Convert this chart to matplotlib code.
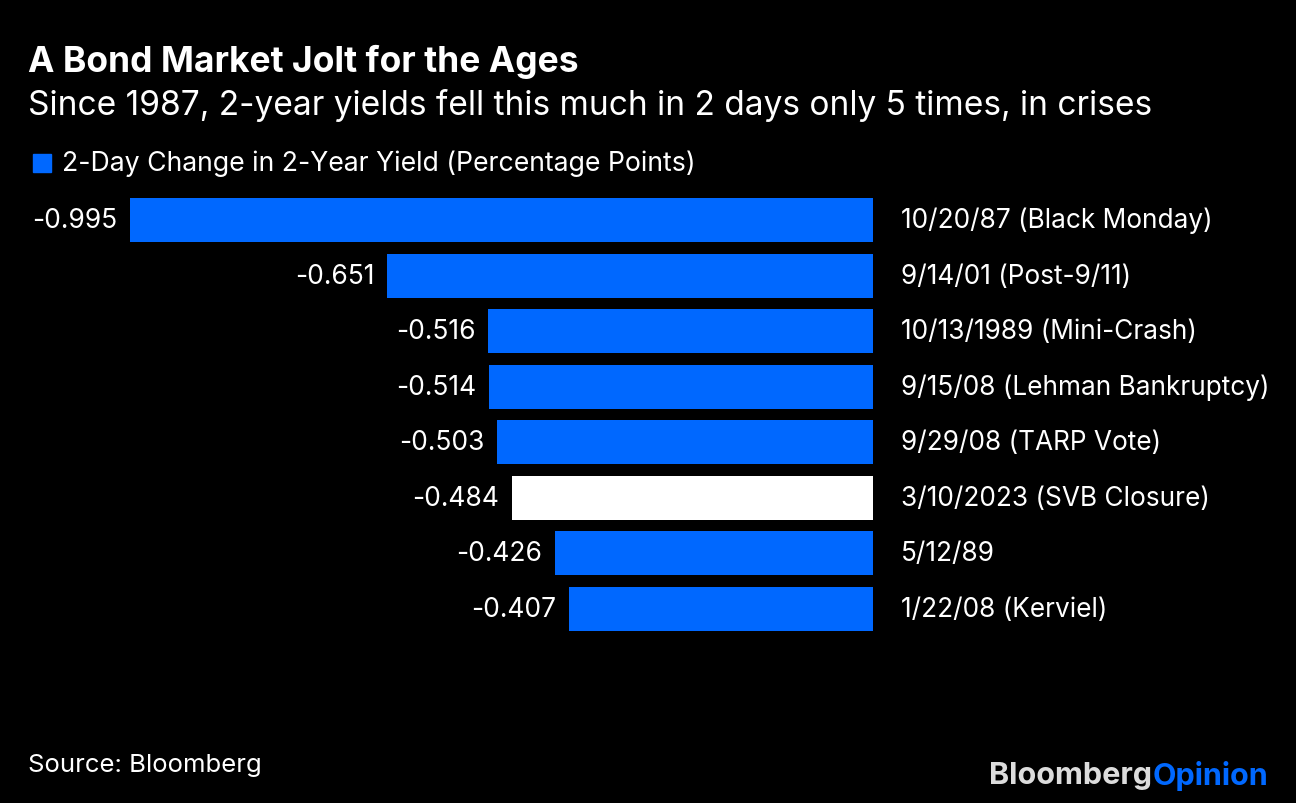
import matplotlib
matplotlib.use('Agg')
import matplotlib.pyplot as plt
from matplotlib.patches import Rectangle

# data
events = ['10/20/87 (Black Monday)', '9/14/01 (Post-9/11)', '10/13/1989 (Mini-Crash)',
          '9/15/08 (Lehman Bankruptcy)', '9/29/08 (TARP Vote)', '3/10/2023 (SVB Closure)',
          '5/12/89', '1/22/08 (Kerviel)']
changes = [-0.995, -0.651, -0.516, -0.514, -0.503, -0.484, -0.426, -0.407]
highlight = '3/10/2023 (SVB Closure)'

BLUE = '#0068ff'
W, H = 1296, 804
plt.rcParams['font.family'] = ['Inter', 'DejaVu Sans']

fig = plt.figure(figsize=(W/100, H/100), dpi=100, facecolor='black')
# axes placed in pixel terms: zero line at x=873, -0.995 at x=130
ax = fig.add_axes([130/W, (H-637.8)/H, 743/W, 444.6/H])
ax.set_facecolor('black')

cols = ['white' if e == highlight else BLUE for e in events]
ypos = list(range(len(events)))
ax.barh(ypos, changes, height=0.79, color=cols)
ax.set_xlim(-0.995, 0)
ax.set_ylim(len(events)-0.5, -0.5)
ax.axis('off')

for y, v, e in zip(ypos, changes, events):
    ax.annotate('%.3f' % v, (v, y), xytext=(-9, 0), textcoords='offset points',
                ha='right', va='center', color='white', fontsize=19)
    ax.annotate(e, (0, y), xytext=(20, 0), textcoords='offset points',
                ha='left', va='center', color='white', fontsize=18.9)

fig.text(28/W, 1-62/H, 'A Bond Market Jolt for the Ages', color='white',
         fontsize=25.5, fontweight='bold', va='center')
fig.text(28/W, 1-105/H, 'Since 1987, 2-year yields fell this much in 2 days only 5 times, in crises',
         color='white', fontsize=24.1, va='center')

# legend
fig.patches.append(Rectangle((33/W, 1-173/H), 18/W, 18/H, transform=fig.transFigure,
                             color=BLUE))
fig.text(62/W, 1-164/H, '2-Day Change in 2-Year Yield (Percentage Points)', color='white',
         fontsize=19.2, va='center')

fig.text(28/W, 1-766/H, 'Source: Bloomberg', color='white', fontsize=18.5, va='center')

# logo
op = fig.text(1268/W, 1-776/H, 'Opinion', color=BLUE, fontsize=22, fontweight='bold',
              ha='right', va='center')
fig.canvas.draw()
x0 = op.get_window_extent().x0
fig.text(x0/W, 1-776/H, 'Bloomberg', color='#dcdcdc', fontsize=22, fontweight='bold',
         ha='right', va='center')

fig.savefig('out.png', dpi=100, facecolor='black')
